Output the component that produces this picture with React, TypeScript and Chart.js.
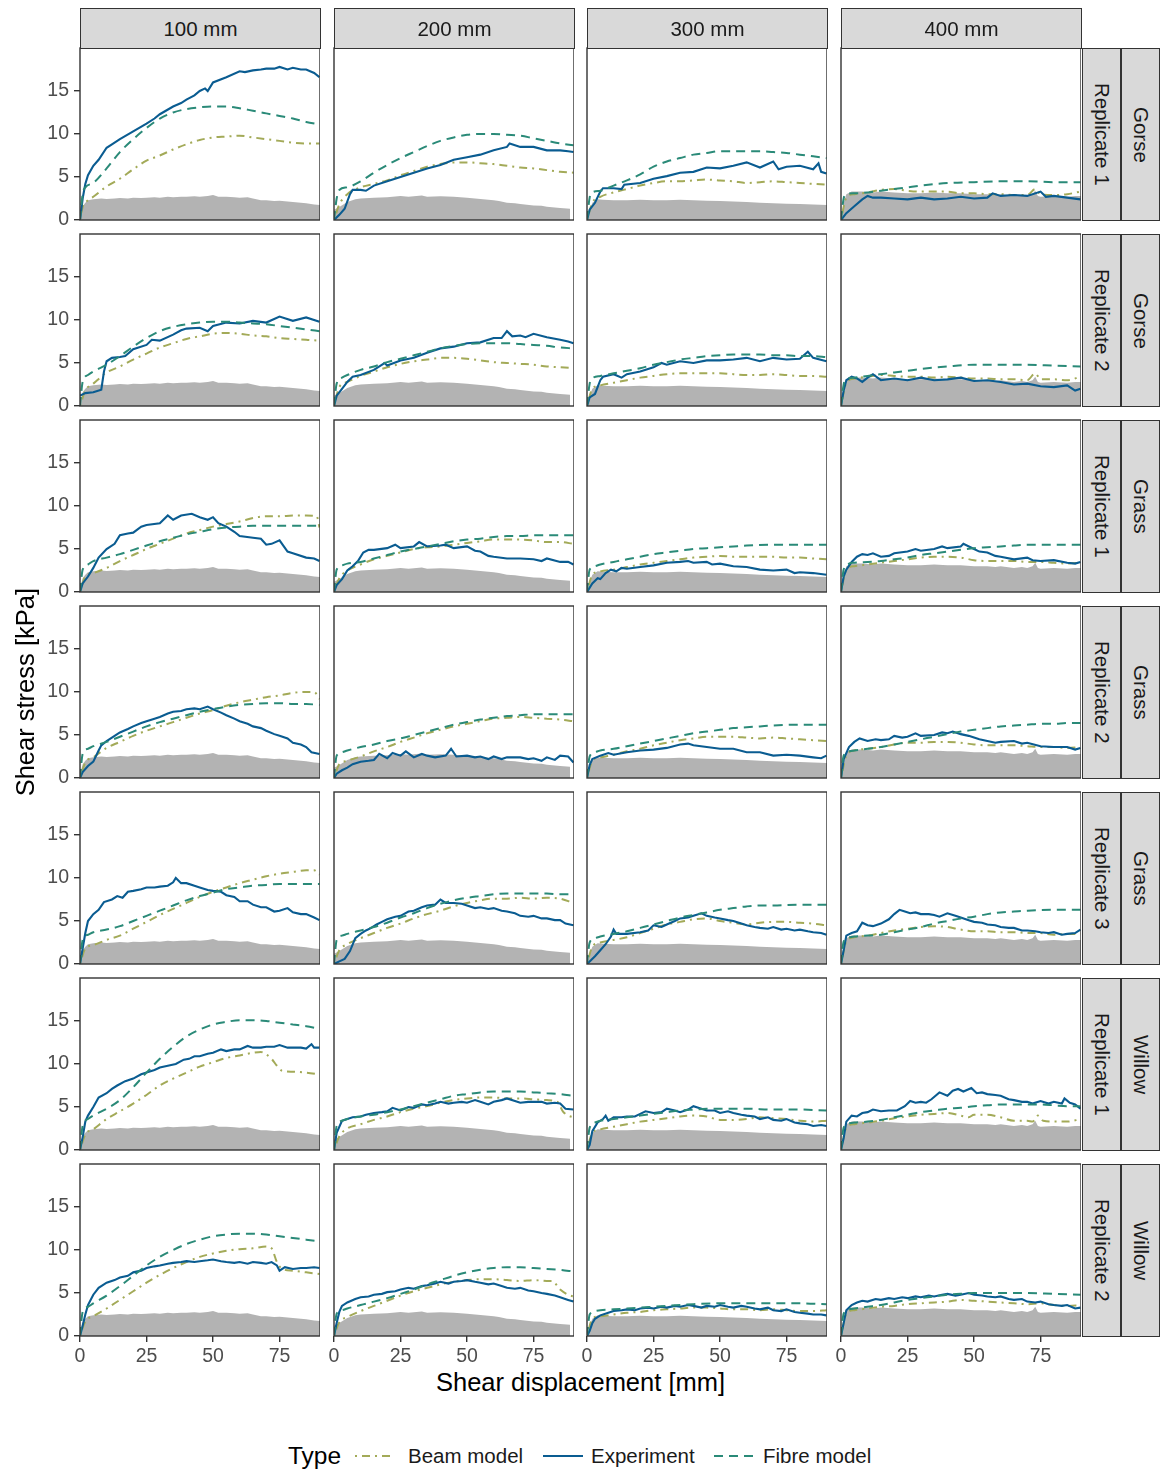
import React, { useEffect, useRef } from "react";
import { Chart, registerables } from "chart.js";

Chart.register(...registerables);
Chart.defaults.font.family = "'Liberation Sans', Arial, sans-serif";

type Pts = [number, number][];

// ---------- facet labels & ticks ----------
const COLUMNS = ["100 mm", "200 mm", "300 mm", "400 mm"];
const SPECIES = ["Gorse", "Gorse", "Grass", "Grass", "Grass", "Willow", "Willow"];
const REPLICATES = ["Replicate 1", "Replicate 2", "Replicate 1", "Replicate 2", "Replicate 3", "Replicate 1", "Replicate 2"];
const X_TICKS = [0, 25, 50, 75];
const Y_TICKS = [0, 5, 10, 15];
const SERIES = ["Beam model", "Experiment", "Fibre model"];

// ---------- soil-only (grey area), one per column ----------
const soil_100: Pts = [[0,0],[0.5,1.0],[1,1.6],[2,2.0],[3,2.3],[5,2.4],[8,2.5],[10,2.45],[13,2.5],[15,2.55],[18,2.5],[20,2.6],[23,2.55],[25,2.6],[28,2.65],[30,2.6],[33,2.7],[35,2.65],[38,2.7],[40,2.7],[43,2.75],[45,2.7],[48,2.8],[50,2.9],[52,2.7],[55,2.7],[58,2.65],[60,2.6],[63,2.65],[65,2.5],[68,2.3],[70,2.3],[73,2.2],[75,2.25],[78,2.15],[80,2.1],[83,2.0],[85,1.95],[88,1.8],[90.2,1.75]];
const soil_200: Pts = [[0,1.2],[2,1.5],[5,2.1],[8,2.4],[10,2.5],[15,2.6],[20,2.65],[25,2.8],[28,2.7],[30,2.75],[33,2.85],[35,2.7],[40,2.75],[45,2.7],[50,2.6],[55,2.45],[60,2.3],[62,2.2],[65,2.0],[68,1.95],[70,1.85],[75,1.7],[78,1.65],[80,1.55],[85,1.4],[88.7,1.3]];
const soil_300: Pts = [[0,0],[1,1.2],[2,2.0],[4,2.4],[6,2.35],[10,2.3],[15,2.3],[20,2.35],[25,2.3],[30,2.3],[35,2.35],[40,2.3],[45,2.25],[50,2.2],[55,2.15],[60,2.1],[65,2.0],[70,1.95],[75,1.9],[80,1.85],[85,1.8],[90.2,1.75]];
const soil_400: Pts = [[0,0],[1,2.0],[2,3.0],[4,3.3],[8,3.3],[12,3.2],[15,3.3],[20,3.2],[25,3.1],[30,3.1],[35,3.2],[40,3.1],[45,3.1],[50,3.0],[55,3.0],[58,2.9],[60,3.0],[65,2.8],[68,2.9],[70,2.8],[72,3.0],[73,3.4],[74,2.8],[75,2.7],[80,2.8],[85,2.7],[88,2.8],[90.2,2.8]];

// ---------- Gorse, Replicate 1 ----------
const exp_g1_100: Pts = [[0,0],[1,2.5],[2,4.2],[3,5.2],[5,6.3],[7,7.0],[10,8.4],[12,8.8],[15,9.4],[20,10.3],[25,11.2],[28,11.8],[30,12.3],[35,13.2],[38,13.6],[40,14.0],[43,14.5],[45,15.0],[47,15.3],[48,15.0],[50,16.0],[55,16.6],[60,17.3],[62,17.2],[65,17.4],[68,17.5],[70,17.6],[73,17.6],[75,17.8],[78,17.5],[80,17.7],[83,17.5],[85,17.5],[88,17.1],[90,16.6]];
const fib_g1_100: Pts = [[0,0],[1,3.0],[2,3.8],[5,4.3],[10,6.0],[15,7.9],[20,9.4],[25,10.7],[30,11.8],[35,12.5],[40,12.9],[45,13.1],[50,13.2],[55,13.2],[60,13.0],[65,12.7],[70,12.4],[75,12.1],[80,11.8],[85,11.4],[90,11.1]];
const beam_g1_100: Pts = [[0,0],[1,1.5],[3,2.3],[5,2.7],[10,3.9],[15,4.8],[20,5.9],[25,6.9],[30,7.5],[35,8.2],[40,8.8],[45,9.3],[50,9.6],[55,9.7],[60,9.8],[65,9.6],[70,9.4],[75,9.2],[80,9.0],[85,8.9],[90,8.9]];

const exp_g1_200: Pts = [[0,0],[2,0.6],[4,1.3],[6,3.0],[7,3.5],[10,3.5],[12,3.4],[15,4.0],[20,4.5],[25,5.0],[30,5.5],[35,6.0],[40,6.4],[45,7.0],[50,7.3],[55,7.6],[60,8.1],[65,8.5],[66,8.9],[70,8.5],[75,8.5],[80,8.1],[85,8.1],[88,8.0],[90,7.9]];
const fib_g1_200: Pts = [[0,0],[1,2.5],[2,3.5],[5,3.8],[10,4.5],[15,5.5],[20,6.4],[25,7.2],[30,7.9],[35,8.6],[40,9.2],[45,9.6],[50,9.9],[55,10.0],[60,10.0],[65,9.9],[70,9.8],[75,9.5],[80,9.2],[85,8.9],[90,8.7]];
const beam_g1_200: Pts = [[0,0],[2,1.8],[5,3.0],[10,3.8],[15,4.2],[20,4.6],[25,5.2],[30,5.7],[35,6.2],[40,6.5],[45,6.7],[50,6.7],[55,6.6],[60,6.5],[65,6.3],[70,6.1],[75,6.0],[80,5.8],[85,5.6],[90,5.5]];

const exp_g1_300: Pts = [[0,0],[1,1.2],[3,2.0],[5,3.3],[6,3.7],[10,3.7],[13,3.6],[14,4.1],[20,4.3],[25,4.8],[30,5.1],[35,5.5],[40,5.6],[45,6.1],[50,6.0],[55,6.3],[60,6.7],[65,6.1],[70,6.8],[72,5.9],[75,6.2],[80,6.3],[85,5.9],[87,6.6],[88,5.6],[90,5.4]];
const fib_g1_300: Pts = [[0,0],[1,2.6],[2,3.2],[5,3.4],[10,4.0],[15,4.6],[20,5.3],[25,6.2],[30,6.8],[35,7.2],[40,7.6],[45,7.8],[50,8.0],[55,8.0],[60,8.0],[65,8.0],[70,7.9],[75,7.8],[80,7.6],[85,7.4],[90,7.2]];
const beam_g1_300: Pts = [[0,0],[2,2.0],[5,2.7],[10,3.2],[15,3.6],[20,4.0],[25,4.3],[30,4.5],[35,4.5],[40,4.6],[45,4.7],[50,4.6],[55,4.5],[60,4.3],[65,4.4],[70,4.5],[75,4.4],[80,4.3],[85,4.2],[90,4.1]];

const exp_g1_400: Pts = [[0,0],[2,0.8],[5,1.6],[8,2.4],[10,2.8],[12,2.6],[15,2.6],[20,2.5],[25,2.4],[30,2.6],[35,2.4],[40,2.5],[45,2.7],[50,2.5],[55,2.6],[57,3.1],[60,2.8],[65,2.9],[70,2.8],[75,3.3],[77,2.7],[80,2.8],[85,2.6],[90,2.4]];
const fib_g1_400: Pts = [[0,0],[1,2.5],[2,3.0],[5,3.1],[10,3.2],[15,3.4],[20,3.6],[25,3.8],[30,4.0],[40,4.3],[50,4.4],[60,4.5],[70,4.5],[80,4.4],[90,4.4]];
const beam_g1_400: Pts = [[0,0],[2,2.6],[5,3.0],[10,3.2],[15,3.5],[20,3.6],[25,3.4],[30,3.3],[35,3.3],[40,3.3],[45,3.1],[50,3.1],[55,3.0],[60,3.0],[65,2.9],[70,2.9],[73,3.6],[75,3.0],[80,2.9],[85,3.0],[90,3.3]];

// ---------- Gorse, Replicate 2 ----------
const exp_g2_100: Pts = [[0,1.2],[2,1.5],[5,1.6],[8,1.9],[9,4.0],[10,5.2],[12,5.6],[15,5.7],[17,5.8],[20,6.6],[25,7.1],[27,7.7],[30,7.6],[35,8.3],[38,8.8],[40,9.0],[45,9.1],[48,8.7],[50,9.3],[55,9.7],[60,9.6],[65,9.9],[70,9.7],[75,10.4],[80,9.9],[85,10.3],[90,9.8]];
const fib_g2_100: Pts = [[0,0],[1,2.8],[3,3.6],[5,4.0],[10,4.8],[15,5.8],[20,6.9],[25,7.9],[30,8.7],[35,9.2],[40,9.5],[45,9.7],[50,9.8],[55,9.8],[60,9.7],[65,9.6],[70,9.5],[75,9.3],[80,9.1],[85,8.9],[90,8.7]];
const beam_g2_100: Pts = [[0,0],[2,1.8],[5,2.6],[10,3.9],[15,4.6],[20,5.4],[25,6.1],[30,6.8],[35,7.3],[40,7.8],[45,8.1],[50,8.4],[55,8.5],[60,8.4],[65,8.2],[70,8.1],[75,7.9],[80,7.8],[85,7.7],[90,7.6]];

const exp_g2_200: Pts = [[0,0],[1,1.2],[3,2.0],[5,2.8],[7,3.4],[10,3.6],[15,4.2],[19,5.0],[20,4.7],[25,5.3],[30,5.6],[35,6.2],[40,6.7],[45,6.9],[50,7.3],[55,7.4],[60,7.9],[63,7.9],[65,8.7],[67,8.1],[70,8.2],[72,8.0],[75,8.4],[80,8.0],[85,7.7],[88,7.5],[90,7.3]];
const fib_g2_200: Pts = [[0,0],[1,2.6],[3,3.3],[5,3.6],[10,4.2],[15,4.6],[20,5.1],[25,5.5],[30,5.9],[35,6.3],[40,6.7],[45,7.0],[50,7.2],[55,7.3],[60,7.3],[65,7.3],[70,7.2],[75,7.1],[80,7.0],[85,6.8],[90,6.7]];
const beam_g2_200: Pts = [[0,0],[2,2.2],[5,2.8],[10,3.5],[15,4.0],[20,4.5],[25,4.9],[30,5.2],[35,5.4],[40,5.6],[45,5.6],[50,5.5],[55,5.3],[60,5.1],[65,5.0],[70,4.9],[75,4.8],[80,4.6],[85,4.5],[90,4.4]];

const exp_g2_300: Pts = [[0,0],[1,1.0],[3,1.4],[5,3.0],[6,3.4],[10,3.7],[13,3.3],[15,3.7],[20,4.0],[25,4.5],[28,5.0],[30,4.8],[35,5.2],[40,5.0],[45,5.3],[50,5.3],[55,5.4],[60,5.6],[65,5.2],[70,5.6],[75,5.4],[80,5.5],[83,6.3],[85,5.6],[90,5.2]];
const fib_g2_300: Pts = [[0,0],[1,2.6],[2,3.2],[5,3.5],[10,3.8],[15,4.1],[20,4.4],[25,4.8],[30,5.1],[35,5.4],[40,5.6],[45,5.8],[50,5.9],[55,6.0],[60,6.0],[65,6.0],[70,5.9],[75,5.9],[80,5.8],[85,5.8],[90,5.7]];
const beam_g2_300: Pts = [[0,0],[2,2.0],[5,2.4],[10,2.7],[15,3.0],[20,3.3],[25,3.5],[30,3.7],[35,3.8],[40,3.8],[45,3.8],[50,3.8],[55,3.7],[60,3.6],[65,3.6],[70,3.7],[75,3.6],[80,3.5],[85,3.5],[90,3.4]];

const exp_g2_400: Pts = [[0,0],[1,1.8],[2,3.0],[4,3.4],[6,3.2],[8,2.8],[10,3.3],[12,3.7],[15,3.0],[20,3.2],[25,3.0],[30,3.3],[35,3.0],[40,3.1],[45,3.3],[50,2.9],[55,3.0],[60,2.8],[65,2.5],[70,2.6],[75,2.3],[80,2.2],[85,2.4],[88,1.8],[90,2.0]];
const fib_g2_400: Pts = [[0,0],[1,2.5],[2,3.1],[5,3.3],[10,3.5],[15,3.7],[20,3.9],[25,4.1],[30,4.3],[40,4.6],[50,4.8],[60,4.8],[70,4.8],[80,4.7],[90,4.6]];
const beam_g2_400: Pts = [[0,0],[2,2.7],[5,3.2],[10,3.4],[15,3.6],[20,3.5],[25,3.4],[30,3.4],[35,3.3],[40,3.4],[45,3.3],[50,3.2],[55,3.2],[60,3.1],[65,3.1],[70,3.0],[73,3.8],[75,3.1],[80,3.1],[85,3.0],[90,3.4]];

// ---------- Grass, Replicate 1 ----------
const exp_r1_100: Pts = [[0,0],[1,1.0],[3,1.8],[5,2.8],[7,4.0],[10,5.0],[13,5.6],[15,6.6],[18,6.8],[20,6.9],[23,7.6],[25,7.8],[30,8.0],[33,8.9],[35,8.4],[38,8.9],[42,9.1],[45,8.7],[48,8.4],[50,8.7],[52,8.0],[55,7.6],[58,7.0],[60,6.5],[65,6.3],[68,6.2],[70,5.5],[72,5.6],[75,6.0],[78,4.7],[80,4.5],[85,4.0],[88,3.9],[90,3.6]];
const fib_r1_100: Pts = [[0,0],[1,2.6],[3,3.2],[5,3.6],[10,4.0],[15,4.4],[20,4.9],[25,5.4],[30,5.9],[35,6.3],[40,6.7],[45,7.0],[50,7.3],[55,7.5],[60,7.6],[65,7.7],[70,7.7],[75,7.7],[80,7.7],[85,7.7],[90,7.7]];
const beam_r1_100: Pts = [[0,0],[2,1.8],[5,2.2],[10,2.8],[15,3.6],[20,4.3],[25,5.0],[30,5.6],[35,6.2],[40,6.8],[45,7.2],[50,7.6],[55,7.9],[60,8.2],[65,8.6],[70,8.8],[75,8.8],[80,8.9],[85,8.9],[89,8.8],[90,7.5]];

const exp_r1_200: Pts = [[0,0],[1,0.8],[3,1.5],[5,2.5],[7,3.0],[9,3.6],[11,4.6],[13,4.9],[15,4.9],[20,5.1],[23,5.5],[25,5.1],[30,5.3],[32,5.8],[35,5.3],[40,5.4],[42,5.5],[45,5.1],[50,5.3],[53,4.8],[55,4.7],[58,4.2],[60,4.1],[65,3.9],[70,3.9],[75,3.8],[78,3.6],[80,3.9],[85,3.5],[88,3.5],[90,3.2]];
const fib_r1_200: Pts = [[0,0],[1,2.6],[3,3.1],[5,3.3],[10,3.5],[15,3.9],[20,4.3],[25,4.7],[30,5.0],[35,5.3],[40,5.6],[45,5.9],[50,6.1],[55,6.2],[60,6.4],[65,6.5],[70,6.5],[75,6.6],[80,6.6],[85,6.6],[90,6.6]];
const beam_r1_200: Pts = [[0,0],[2,1.6],[5,2.5],[10,3.2],[15,3.8],[20,4.2],[25,4.6],[30,5.0],[35,5.2],[40,5.3],[45,5.5],[50,5.7],[55,5.9],[60,6.1],[65,6.1],[70,6.1],[75,6.0],[80,5.8],[85,5.8],[90,5.6]];

const exp_r1_300: Pts = [[0,0],[2,1.0],[4,1.6],[5,1.5],[7,2.2],[9,2.6],[11,2.4],[13,2.8],[15,2.7],[20,2.9],[25,3.1],[30,3.4],[35,3.5],[38,3.6],[40,3.4],[45,3.5],[47,3.2],[50,3.3],[55,3.0],[60,2.9],[65,2.6],[70,2.5],[75,2.6],[78,2.2],[80,2.3],[85,2.2],[90,2.0]];
const fib_r1_300: Pts = [[0,0],[1,2.6],[3,3.0],[5,3.2],[10,3.5],[15,3.8],[20,4.1],[25,4.4],[30,4.6],[35,4.8],[40,5.0],[45,5.1],[50,5.2],[55,5.3],[60,5.4],[70,5.5],[80,5.5],[90,5.5]];
const beam_r1_300: Pts = [[0,0],[2,2.0],[5,2.4],[10,2.6],[15,2.9],[20,3.2],[25,3.4],[30,3.6],[35,3.8],[40,4.0],[45,4.1],[50,4.2],[55,4.1],[60,4.1],[65,4.1],[70,4.1],[75,4.0],[80,4.0],[85,3.9],[90,3.8]];

const exp_r1_400: Pts = [[0,0],[1,1.8],[2,2.6],[4,3.5],[6,4.1],[8,4.4],[10,4.3],[12,4.5],[15,4.1],[18,4.2],[20,4.5],[25,4.7],[28,5.0],[30,4.8],[35,5.0],[38,5.3],[40,5.1],[45,5.3],[46,5.6],[50,5.0],[52,4.7],[55,4.6],[58,4.2],[60,4.1],[65,3.8],[70,4.0],[72,3.7],[75,3.6],[80,3.7],[85,3.4],[88,3.3],[90,3.5]];
const fib_r1_400: Pts = [[0,0],[1,2.6],[3,3.3],[5,3.4],[10,3.5],[15,3.6],[20,3.8],[25,4.0],[30,4.3],[35,4.5],[40,4.7],[45,4.9],[50,5.1],[55,5.2],[60,5.3],[65,5.4],[70,5.5],[80,5.5],[90,5.5]];
const beam_r1_400: Pts = [[0,0],[2,2.6],[5,3.0],[10,3.2],[15,3.4],[20,3.6],[25,3.8],[30,4.0],[35,4.1],[40,4.1],[45,4.0],[50,3.7],[55,3.6],[60,3.6],[65,3.6],[70,3.5],[75,3.5],[80,3.4],[85,3.3],[90,3.4]];

// ---------- Grass, Replicate 2 ----------
const exp_r2_100: Pts = [[0,0],[1,0.7],[3,1.4],[5,1.9],[7,3.2],[8,3.8],[10,4.3],[13,4.9],[15,5.3],[18,5.7],[20,6.0],[23,6.4],[25,6.6],[28,6.9],[30,7.1],[33,7.5],[35,7.7],[38,7.8],[40,8.0],[43,8.1],[45,8.0],[48,8.3],[50,8.0],[53,7.6],[55,7.3],[58,6.9],[60,6.6],[63,6.3],[65,6.0],[68,5.8],[70,5.5],[73,5.1],[75,4.9],[78,4.6],[80,4.1],[83,3.9],[85,3.6],[87,3.0],[90,2.8]];
const fib_r2_100: Pts = [[0,0],[1,2.8],[3,3.4],[5,3.7],[10,4.2],[15,4.8],[20,5.4],[25,6.0],[30,6.5],[35,6.9],[40,7.3],[45,7.7],[50,8.0],[55,8.3],[60,8.5],[65,8.6],[70,8.7],[75,8.7],[80,8.6],[85,8.6],[90,8.5]];
const beam_r2_100: Pts = [[0,0],[2,1.8],[5,2.4],[10,3.5],[15,4.2],[20,4.9],[25,5.5],[30,6.0],[35,6.5],[40,7.0],[45,7.5],[50,7.9],[55,8.4],[60,8.8],[65,9.1],[70,9.4],[75,9.6],[80,9.9],[85,10.0],[88,10.0],[90,9.2]];

const exp_r2_200: Pts = [[0,0],[1,0.5],[3,0.9],[5,1.2],[7,1.6],[10,1.9],[13,2.0],[15,2.1],[17,2.8],[20,2.3],[22,2.9],[25,2.6],[27,3.1],[30,2.4],[33,2.8],[35,2.6],[38,2.4],[42,2.6],[44,3.4],[46,2.5],[50,2.6],[53,2.4],[55,2.5],[58,2.2],[60,2.5],[63,2.2],[65,2.4],[70,2.4],[73,2.2],[75,2.3],[78,2.0],[80,2.4],[83,2.1],[85,2.6],[88,2.5],[90,1.8]];
const fib_r2_200: Pts = [[0,0],[1,2.6],[3,3.0],[5,3.2],[10,3.6],[15,3.9],[20,4.3],[25,4.6],[30,5.0],[35,5.4],[40,5.8],[45,6.2],[50,6.5],[55,6.8],[60,7.0],[65,7.2],[70,7.3],[75,7.4],[80,7.4],[85,7.4],[90,7.4]];
const beam_r2_200: Pts = [[0,0],[2,1.6],[5,2.0],[10,2.5],[15,3.1],[20,3.6],[25,4.2],[30,4.7],[35,5.2],[40,5.6],[45,6.0],[50,6.3],[55,6.6],[60,6.9],[65,7.0],[70,7.1],[75,7.0],[80,6.9],[85,6.8],[90,6.6]];

const exp_r2_300: Pts = [[0,0],[1,1.5],[2,2.2],[5,2.6],[8,2.9],[10,2.7],[15,3.0],[20,3.2],[25,3.3],[30,3.5],[35,3.9],[38,4.0],[40,3.8],[45,3.6],[50,3.4],[55,3.4],[60,3.0],[65,3.0],[70,2.6],[75,2.7],[80,2.6],[85,2.4],[88,2.3],[90,2.6]];
const fib_r2_300: Pts = [[0,0],[1,2.5],[3,3.0],[5,3.2],[10,3.4],[15,3.7],[20,4.0],[25,4.3],[30,4.6],[35,4.9],[40,5.2],[45,5.4],[50,5.6],[55,5.8],[60,5.9],[65,6.0],[70,6.1],[80,6.2],[90,6.2]];
const beam_r2_300: Pts = [[0,0],[2,2.0],[5,2.4],[10,2.7],[15,3.1],[20,3.4],[25,3.8],[30,4.1],[35,4.4],[40,4.6],[45,4.8],[50,4.8],[55,4.8],[60,4.7],[65,4.6],[70,4.7],[75,4.6],[80,4.5],[85,4.4],[90,4.3]];

const exp_r2_400: Pts = [[0,0],[1,2.2],[3,3.6],[5,4.2],[7,4.6],[10,4.3],[13,4.5],[15,4.4],[18,4.5],[20,4.9],[23,4.7],[25,4.8],[28,5.2],[30,4.9],[35,5.0],[38,5.3],[40,5.2],[42,5.4],[45,5.1],[48,4.9],[50,4.7],[52,4.5],[55,4.3],[58,4.1],[60,4.2],[65,4.3],[68,4.0],[70,4.1],[75,3.7],[80,3.6],[85,3.6],[88,3.3],[90,3.5]];
const fib_r2_400: Pts = [[0,0],[1,2.6],[3,3.1],[5,3.2],[10,3.4],[15,3.6],[20,3.9],[25,4.2],[30,4.5],[35,4.8],[40,5.1],[45,5.4],[50,5.6],[55,5.8],[60,6.0],[65,6.1],[70,6.2],[75,6.3],[80,6.3],[85,6.4],[90,6.4]];
const beam_r2_400: Pts = [[0,0],[2,2.6],[5,3.2],[10,3.4],[15,3.6],[20,3.9],[25,4.1],[30,4.1],[35,4.2],[40,4.2],[45,4.1],[50,3.9],[55,3.8],[60,3.8],[65,3.8],[70,3.7],[75,3.6],[80,3.6],[85,3.5],[90,3.6]];

// ---------- Grass, Replicate 3 ----------
const exp_r3_100: Pts = [[0,0],[1,1.8],[2,3.6],[3,5.0],[5,5.8],[7,6.3],[9,7.2],[12,7.5],[14,7.9],[16,7.7],[18,8.4],[20,8.5],[23,8.7],[25,8.9],[28,8.9],[30,9.0],[33,9.1],[35,9.5],[36,10.0],[38,9.4],[40,9.4],[43,9.1],[45,8.9],[48,8.6],[50,8.5],[53,8.4],[55,8.0],[58,7.8],[60,7.3],[63,7.3],[65,6.9],[68,6.6],[70,6.6],[73,6.1],[75,6.2],[78,6.5],[80,6.0],[83,5.8],[85,5.8],[88,5.4],[90,5.1]];
const fib_r3_100: Pts = [[0,0],[1,2.8],[3,3.4],[5,3.7],[10,4.0],[15,4.4],[20,5.0],[25,5.6],[30,6.2],[35,6.8],[40,7.4],[45,7.9],[50,8.3],[55,8.7],[60,8.9],[65,9.1],[70,9.2],[75,9.3],[80,9.3],[85,9.3],[90,9.3]];
const beam_r3_100: Pts = [[0,0],[2,1.8],[5,2.2],[10,2.8],[15,3.3],[20,4.1],[25,4.9],[30,5.7],[35,6.4],[40,7.1],[45,7.8],[50,8.4],[55,8.9],[60,9.4],[65,9.8],[70,10.2],[75,10.5],[80,10.7],[85,10.9],[88,10.9],[90,10.4]];

const exp_r3_200: Pts = [[0,0],[2,0.3],[4,0.6],[6,1.5],[8,3.0],[10,3.5],[12,3.9],[14,4.2],[16,4.6],[18,4.9],[20,5.2],[23,5.5],[25,5.6],[28,6.1],[30,6.2],[33,6.6],[35,6.8],[38,6.9],[40,7.5],[42,7.1],[45,7.1],[48,7.0],[50,6.8],[53,6.5],[55,6.6],[58,6.4],[60,6.5],[63,6.2],[65,6.1],[68,5.9],[70,5.6],[73,5.5],[75,5.6],[78,5.3],[80,5.3],[83,5.1],[85,5.1],[87,4.7],[90,4.5]];
const fib_r3_200: Pts = [[0,0],[1,2.8],[3,3.3],[5,3.5],[10,3.9],[15,4.3],[20,4.8],[25,5.4],[30,5.9],[35,6.5],[40,7.0],[45,7.4],[50,7.7],[55,7.9],[60,8.1],[65,8.2],[70,8.2],[75,8.2],[80,8.2],[85,8.1],[90,8.1]];
const beam_r3_200: Pts = [[0,0],[2,1.6],[5,2.3],[10,3.0],[15,3.6],[20,4.2],[25,4.7],[30,5.3],[35,5.8],[40,6.2],[45,6.7],[50,7.1],[55,7.4],[60,7.6],[65,7.6],[70,7.7],[75,7.6],[80,7.7],[85,7.6],[90,7.1]];

const exp_r3_300: Pts = [[0,0],[1,0.3],[3,0.9],[5,1.6],[7,2.3],[9,3.2],[10,4.0],[11,3.5],[15,3.5],[20,3.7],[23,3.9],[25,4.5],[28,4.3],[30,4.6],[33,5.0],[35,5.3],[38,5.4],[40,5.6],[43,5.9],[45,5.6],[48,5.4],[50,5.3],[53,5.1],[55,5.0],[58,4.7],[60,4.5],[63,4.3],[65,4.2],[68,4.1],[70,4.3],[73,4.0],[75,4.1],[78,3.9],[80,4.0],[83,3.8],[85,3.7],[88,3.6],[90,3.4]];
const fib_r3_300: Pts = [[0,0],[1,2.5],[3,3.0],[5,3.2],[10,3.5],[15,3.8],[20,4.2],[25,4.6],[30,5.0],[35,5.4],[40,5.7],[45,6.0],[50,6.3],[55,6.5],[60,6.7],[65,6.8],[70,6.8],[80,6.9],[90,6.9]];
const beam_r3_300: Pts = [[0,0],[2,2.0],[5,2.5],[10,2.8],[15,3.1],[20,3.6],[25,4.1],[30,4.6],[35,4.9],[40,5.2],[45,5.3],[50,5.0],[55,4.8],[60,4.6],[65,4.8],[70,4.9],[75,4.9],[80,4.8],[85,4.7],[90,4.5]];

const exp_r3_400: Pts = [[0,0],[1,1.6],[2,3.3],[4,3.6],[6,3.8],[8,4.8],[10,4.5],[12,4.4],[15,4.7],[18,5.2],[20,5.8],[22,6.3],[24,6.1],[26,5.9],[28,6.0],[30,5.8],[33,5.8],[35,5.7],[37,5.5],[40,5.9],[43,5.6],[45,5.4],[48,5.1],[50,4.9],[53,4.8],[55,4.6],[58,4.5],[60,4.3],[63,4.2],[65,4.2],[68,3.9],[70,3.9],[73,3.8],[75,3.7],[78,3.6],[80,3.7],[83,3.4],[85,3.5],[88,3.6],[90,4.0]];
const fib_r3_400: Pts = [[0,0],[1,2.6],[3,3.1],[5,3.2],[10,3.3],[15,3.4],[20,3.7],[25,4.0],[30,4.3],[35,4.7],[40,5.0],[45,5.3],[50,5.5],[55,5.8],[60,6.0],[65,6.1],[70,6.2],[80,6.3],[90,6.3]];
const beam_r3_400: Pts = [[0,0],[2,2.6],[5,3.1],[10,3.3],[15,3.6],[20,3.9],[25,4.1],[30,4.3],[35,4.4],[40,4.3],[45,4.0],[50,3.8],[55,3.8],[60,3.7],[65,3.7],[70,3.6],[75,3.6],[80,3.4],[85,3.5],[90,3.5]];

// ---------- Willow, Replicate 1 ----------
const exp_w1_100: Pts = [[0,0],[1,1.5],[2,3.3],[3,4.0],[5,5.0],[7,6.1],[10,6.6],[12,7.1],[14,7.5],[17,8.0],[20,8.3],[23,8.8],[25,9.0],[28,9.3],[30,9.6],[33,9.8],[36,10.0],[39,10.5],[41,10.6],[43,10.9],[45,10.9],[48,11.2],[50,11.3],[53,11.7],[55,11.5],[58,11.7],[60,11.7],[63,12.1],[65,11.9],[68,11.9],[70,12.0],[73,12.0],[75,12.2],[78,11.9],[80,11.9],[83,11.9],[85,11.8],[87,12.3],[88,11.9],[90,11.9]];
const fib_w1_100: Pts = [[0,0],[1,2.8],[3,3.6],[5,4.0],[10,4.8],[15,5.8],[20,7.3],[25,9.0],[30,10.6],[35,12.0],[40,13.2],[45,14.0],[50,14.6],[55,14.9],[60,15.1],[65,15.1],[70,15.0],[75,14.8],[80,14.6],[85,14.4],[90,14.1]];
const beam_w1_100: Pts = [[0,0],[2,1.8],[5,2.4],[10,3.6],[15,4.5],[20,5.4],[25,6.4],[30,7.5],[35,8.3],[40,9.0],[45,9.7],[50,10.2],[55,10.7],[60,11.0],[65,11.3],[68,11.4],[70,11.1],[72,10.6],[74,9.8],[76,9.2],[80,9.1],[85,9.0],[90,8.8]];

const exp_w1_200: Pts = [[0,0],[1,2.0],[3,3.4],[5,3.6],[7,3.8],[10,3.9],[12,4.1],[15,4.3],[18,4.4],[20,4.5],[22,4.9],[25,4.6],[28,5.0],[30,4.9],[33,5.3],[35,5.2],[38,5.4],[40,5.6],[43,5.4],[45,5.5],[48,5.6],[50,5.5],[53,5.8],[55,5.6],[58,5.3],[60,5.6],[63,5.8],[65,6.0],[68,5.7],[70,5.5],[73,5.6],[75,5.6],[78,5.6],[80,5.4],[83,5.5],[85,5.4],[87,4.8],[90,4.7]];
const fib_w1_200: Pts = [[0,0],[1,2.8],[3,3.4],[5,3.6],[10,3.9],[15,4.1],[20,4.4],[25,4.7],[30,5.1],[35,5.5],[40,5.9],[45,6.3],[50,6.5],[55,6.7],[60,6.8],[65,6.8],[70,6.8],[75,6.7],[80,6.6],[85,6.5],[90,6.3]];
const beam_w1_200: Pts = [[0,0],[2,1.6],[5,2.5],[10,3.0],[15,3.5],[20,3.9],[25,4.4],[30,4.8],[35,5.1],[40,5.5],[45,5.8],[50,6.0],[55,6.1],[60,6.1],[65,6.0],[70,6.0],[75,5.9],[80,5.8],[84,5.6],[86,4.5],[88,4.0],[90,3.8]];

const exp_w1_300: Pts = [[0,0],[1,0.6],[2,2.2],[4,3.2],[6,3.6],[7,4.0],[8,3.4],[10,3.8],[13,3.8],[15,3.9],[18,3.9],[20,4.2],[22,4.5],[25,4.3],[28,4.4],[30,4.8],[33,4.6],[35,4.4],[38,4.7],[40,5.1],[43,4.8],[45,4.6],[48,4.6],[50,4.3],[53,4.5],[55,4.3],[58,4.1],[60,4.0],[63,3.9],[65,3.6],[68,3.8],[70,3.5],[73,3.4],[75,3.6],[78,3.2],[80,3.1],[83,3.0],[85,2.8],[88,2.9],[90,2.8]];
const fib_w1_300: Pts = [[0,0],[1,2.6],[3,3.2],[5,3.4],[10,3.6],[15,3.8],[20,4.0],[25,4.2],[30,4.4],[35,4.6],[40,4.7],[45,4.8],[50,4.8],[60,4.8],[70,4.7],[80,4.7],[90,4.6]];
const beam_w1_300: Pts = [[0,0],[2,2.0],[5,2.4],[10,2.7],[15,3.0],[20,3.3],[25,3.5],[30,3.7],[35,3.9],[40,4.0],[45,3.9],[50,3.5],[55,3.5],[60,3.6],[65,3.8],[70,3.7],[75,3.6],[80,3.4],[85,3.3],[90,3.4]];

const exp_w1_400: Pts = [[0,0],[1,1.4],[2,3.3],[4,4.0],[6,3.9],[8,4.3],[10,4.4],[12,4.7],[15,4.5],[18,4.6],[21,4.6],[24,5.1],[26,5.7],[28,5.5],[30,5.6],[32,5.5],[34,5.9],[37,6.7],[40,6.3],[42,6.9],[44,7.1],[46,6.8],[49,7.2],[51,6.6],[53,6.7],[55,6.5],[58,6.4],[60,6.3],[63,5.9],[65,5.8],[68,5.6],[70,5.6],[72,5.4],[75,5.7],[78,5.4],[80,5.6],[83,5.4],[84,6.0],[86,5.5],[88,5.3],[90,4.8]];
const fib_w1_400: Pts = [[0,0],[1,2.6],[3,3.1],[5,3.2],[10,3.3],[15,3.5],[20,3.8],[25,4.1],[30,4.4],[35,4.6],[40,4.8],[45,4.9],[50,5.1],[55,5.2],[60,5.3],[65,5.3],[70,5.3],[75,5.3],[80,5.2],[85,5.1],[90,5.1]];
const beam_w1_400: Pts = [[0,0],[2,2.6],[5,3.0],[10,3.2],[15,3.4],[20,3.7],[25,3.9],[30,4.1],[35,4.2],[40,4.3],[45,4.0],[48,3.8],[50,4.1],[55,4.1],[60,3.8],[65,3.4],[70,3.4],[72,3.3],[74,4.0],[76,3.4],[80,3.3],[85,3.3],[90,3.6]];

// ---------- Willow, Replicate 2 ----------
const exp_w2_100: Pts = [[0,0],[1,1.2],[2,2.5],[3,3.6],[5,4.8],[7,5.6],[10,6.2],[13,6.5],[15,6.8],[18,7.0],[20,7.4],[23,7.6],[25,7.9],[28,8.1],[30,8.2],[33,8.4],[35,8.5],[38,8.6],[40,8.7],[43,8.6],[45,8.7],[48,8.8],[50,8.9],[53,8.7],[55,8.6],[58,8.5],[60,8.6],[63,8.4],[65,8.6],[68,8.5],[70,8.4],[72,8.6],[74,8.2],[75,7.6],[77,8.0],[80,7.8],[83,7.9],[85,7.9],[88,8.0],[90,7.9]];
const fib_w2_100: Pts = [[0,0],[1,2.8],[3,3.4],[5,3.8],[10,4.7],[15,5.8],[20,7.0],[25,8.2],[30,9.2],[35,10.0],[40,10.7],[45,11.2],[50,11.6],[55,11.8],[60,11.9],[65,11.9],[70,11.8],[75,11.6],[80,11.4],[85,11.2],[90,11.0]];
const beam_w2_100: Pts = [[0,0],[2,1.7],[5,2.3],[10,3.2],[15,4.2],[20,5.2],[25,6.2],[30,7.1],[35,7.9],[40,8.6],[45,9.2],[50,9.6],[55,9.9],[60,10.1],[65,10.2],[70,10.4],[72,10.2],[74,8.6],[76,7.8],[80,7.6],[85,7.4],[90,7.2]];

const exp_w2_200: Pts = [[0,0],[1,1.5],[2,2.8],[3,3.5],[5,3.9],[8,4.3],[10,4.5],[13,4.6],[15,4.8],[18,4.9],[20,5.1],[23,5.2],[25,5.4],[28,5.6],[30,5.5],[33,5.8],[35,5.9],[38,6.1],[40,6.3],[43,6.1],[45,6.3],[48,6.4],[50,6.5],[53,6.3],[55,6.2],[58,6.0],[60,6.1],[63,5.8],[65,5.6],[68,5.5],[70,5.6],[73,5.3],[75,5.2],[78,5.0],[80,4.9],[83,4.7],[85,4.5],[88,4.2],[90,4.0]];
const fib_w2_200: Pts = [[0,0],[1,2.6],[3,3.0],[5,3.2],[10,3.6],[15,4.0],[20,4.4],[25,4.9],[30,5.4],[35,6.0],[40,6.5],[45,7.0],[50,7.4],[55,7.7],[60,7.9],[65,8.0],[70,8.0],[75,7.9],[80,7.8],[85,7.7],[90,7.5]];
const beam_w2_200: Pts = [[0,0],[2,1.6],[5,2.2],[10,2.9],[15,3.5],[20,4.1],[25,4.7],[30,5.2],[35,5.6],[40,6.0],[45,6.3],[50,6.5],[55,6.6],[60,6.6],[65,6.5],[70,6.4],[75,6.5],[80,6.4],[82,6.4],[85,5.4],[88,4.8],[90,4.6]];

const exp_w2_300: Pts = [[0,0],[1,0.6],[2,1.5],[3,2.0],[5,2.4],[8,2.7],[10,2.9],[13,3.0],[15,3.1],[18,3.0],[20,3.2],[23,3.3],[25,3.2],[28,3.4],[30,3.3],[33,3.5],[35,3.4],[38,3.6],[40,3.5],[43,3.3],[45,3.5],[48,3.4],[50,3.6],[53,3.4],[55,3.3],[58,3.5],[60,3.4],[63,3.2],[65,3.1],[68,3.3],[70,3.0],[73,2.9],[75,3.1],[78,2.8],[80,2.7],[83,2.6],[85,2.5],[88,2.5],[90,2.4]];
const fib_w2_300: Pts = [[0,0],[1,2.5],[3,2.9],[5,3.0],[10,3.1],[15,3.2],[20,3.3],[30,3.5],[40,3.7],[50,3.8],[60,3.8],[70,3.8],[80,3.8],[90,3.7]];
const beam_w2_300: Pts = [[0,0],[2,2.0],[5,2.3],[10,2.5],[15,2.7],[20,2.8],[25,3.0],[30,3.1],[35,3.2],[40,3.3],[45,3.3],[50,3.2],[55,3.1],[60,3.1],[65,3.0],[70,3.1],[75,3.0],[80,2.9],[85,2.9],[90,3.0]];

const exp_w2_400: Pts = [[0,0],[1,1.5],[2,3.0],[4,3.6],[6,3.9],[8,4.1],[10,4.0],[13,4.3],[15,4.2],[18,4.4],[20,4.3],[23,4.5],[25,4.4],[28,4.6],[30,4.5],[33,4.7],[35,4.6],[38,4.8],[40,4.9],[43,4.7],[45,4.8],[48,5.0],[50,4.8],[53,4.7],[55,4.6],[58,4.5],[60,4.6],[63,4.3],[65,4.2],[68,4.3],[70,4.0],[73,3.9],[75,4.0],[78,3.7],[80,3.6],[83,3.5],[85,3.6],[88,3.2],[90,3.3]];
const fib_w2_400: Pts = [[0,0],[1,2.6],[3,3.1],[5,3.2],[10,3.4],[15,3.6],[20,3.9],[25,4.2],[30,4.4],[35,4.6],[40,4.8],[45,4.9],[50,5.0],[55,5.0],[60,5.0],[70,5.0],[80,4.9],[90,4.8]];
const beam_w2_400: Pts = [[0,0],[2,2.6],[5,3.0],[10,3.2],[15,3.4],[20,3.5],[25,3.7],[30,3.8],[35,3.9],[40,4.0],[45,4.2],[50,4.1],[55,4.0],[60,3.9],[65,3.8],[70,3.7],[75,3.8],[80,3.6],[85,3.5],[90,3.6]];

// ---------- tables built from the arrays above ----------
const SOIL = [soil_100, soil_200, soil_300, soil_400];
const BEAM: Pts[][] = [
  [beam_g1_100, beam_g1_200, beam_g1_300, beam_g1_400],
  [beam_g2_100, beam_g2_200, beam_g2_300, beam_g2_400],
  [beam_r1_100, beam_r1_200, beam_r1_300, beam_r1_400],
  [beam_r2_100, beam_r2_200, beam_r2_300, beam_r2_400],
  [beam_r3_100, beam_r3_200, beam_r3_300, beam_r3_400],
  [beam_w1_100, beam_w1_200, beam_w1_300, beam_w1_400],
  [beam_w2_100, beam_w2_200, beam_w2_300, beam_w2_400],
];
const EXP: Pts[][] = [
  [exp_g1_100, exp_g1_200, exp_g1_300, exp_g1_400],
  [exp_g2_100, exp_g2_200, exp_g2_300, exp_g2_400],
  [exp_r1_100, exp_r1_200, exp_r1_300, exp_r1_400],
  [exp_r2_100, exp_r2_200, exp_r2_300, exp_r2_400],
  [exp_r3_100, exp_r3_200, exp_r3_300, exp_r3_400],
  [exp_w1_100, exp_w1_200, exp_w1_300, exp_w1_400],
  [exp_w2_100, exp_w2_200, exp_w2_300, exp_w2_400],
];
const FIB: Pts[][] = [
  [fib_g1_100, fib_g1_200, fib_g1_300, fib_g1_400],
  [fib_g2_100, fib_g2_200, fib_g2_300, fib_g2_400],
  [fib_r1_100, fib_r1_200, fib_r1_300, fib_r1_400],
  [fib_r2_100, fib_r2_200, fib_r2_300, fib_r2_400],
  [fib_r3_100, fib_r3_200, fib_r3_300, fib_r3_400],
  [fib_w1_100, fib_w1_200, fib_w1_300, fib_w1_400],
  [fib_w2_100, fib_w2_200, fib_w2_300, fib_w2_400],
];

// ---------- styling / layout ----------
const FONT = "'Liberation Sans', Arial, Helvetica, sans-serif";
const C_BEAM = "#A3AA58";
const C_EXP = "#0A5C91";
const C_FIB = "#2A8A78";
const C_SOIL = "#B3B3B3";
const C_FRAME = "#333333";
const DASH_BEAM = [2, 5, 8, 5];
const DASH_FIB = [9, 6];
const SMALL = 20.5;
const TITLE = 25.5;

const COL_X = [80, 334, 587, 841];
const ROW_Y = [48, 234, 420, 606, 792, 978, 1164];
const PW = 240;
const PH = 172;
const AX_W = 45;
const AX_H = 30;
const PAD_T = 20;
const X_MAX = 90.2;
const Y_MAX = 20;

const framePlugin = {
  id: "frame",
  afterDatasetsDraw(chart: any) {
    const { ctx, chartArea: a } = chart;
    ctx.save();
    ctx.strokeStyle = C_FRAME;
    ctx.lineWidth = 1.4;
    ctx.strokeRect(a.left, a.top, a.right - a.left, a.bottom - a.top);
    ctx.restore();
  },
};

const toXY = (p: Pts) => p.map(([x, y]) => ({ x, y }));

function Panel({ r, c }: { r: number; c: number }) {
  const ref = useRef<HTMLCanvasElement>(null);
  useEffect(() => {
    if (!ref.current) return;
    const showY = c === 0;
    const showX = r === ROW_Y.length - 1;
    const tickFont = { family: FONT, size: SMALL - 1 };
    const chart = new Chart(ref.current, {
      type: "line",
      data: {
        datasets: [
          { label: "Soil", data: toXY(SOIL[c]), fill: "origin", backgroundColor: C_SOIL, borderWidth: 0, pointRadius: 0, tension: 0, order: 4 } as any,
          { label: SERIES[0], data: toXY(BEAM[r][c]), borderColor: C_BEAM, borderWidth: 2, borderDash: DASH_BEAM, pointRadius: 0, fill: false, cubicInterpolationMode: "monotone", order: 3 },
          { label: SERIES[1], data: toXY(EXP[r][c]), borderColor: C_EXP, borderWidth: 2.1, pointRadius: 0, fill: false, tension: 0, order: 2 },
          { label: SERIES[2], data: toXY(FIB[r][c]), borderColor: C_FIB, borderWidth: 2, borderDash: DASH_FIB, pointRadius: 0, fill: false, cubicInterpolationMode: "monotone", order: 1 },
        ],
      },
      options: {
        animation: false,
        responsive: false,
        devicePixelRatio: 1,
        events: [],
        layout: { padding: { top: PAD_T, left: 0, right: 0, bottom: 0 } },
        plugins: { legend: { display: false }, tooltip: { enabled: false } },
        scales: {
          x: {
            type: "linear",
            min: 0,
            max: X_MAX,
            afterBuildTicks: (ax: any) => { ax.ticks = X_TICKS.map((v) => ({ value: v })); },
            afterFit: (s: any) => { s.height = AX_H; },
            border: { display: false },
            grid: { display: showX, drawOnChartArea: false, drawTicks: true, tickLength: 6, color: C_FRAME, lineWidth: 1.4 },
            ticks: { display: showX, padding: 3, color: "#4D4D4D", font: tickFont, maxRotation: 0, autoSkip: false },
          },
          y: {
            type: "linear",
            min: 0,
            max: Y_MAX,
            afterBuildTicks: (ax: any) => { ax.ticks = Y_TICKS.map((v) => ({ value: v })); },
            afterFit: (s: any) => { s.width = AX_W; },
            border: { display: false },
            grid: { display: showY, drawOnChartArea: false, drawTicks: true, tickLength: 6, color: C_FRAME, lineWidth: 1.4 },
            ticks: { display: showY, padding: 5, color: "#4D4D4D", font: tickFont, autoSkip: false },
          },
        },
      } as any,
      plugins: [framePlugin],
    });
    return () => chart.destroy();
  }, [r, c]);
  return (
    <canvas
      ref={ref}
      width={AX_W + PW}
      height={PAD_T + PH + AX_H}
      style={{ position: "absolute", left: COL_X[c] - AX_W, top: ROW_Y[r] - PAD_T, width: AX_W + PW, height: PAD_T + PH + AX_H }}
    />
  );
}

const stripBase: React.CSSProperties = {
  position: "absolute",
  boxSizing: "border-box",
  background: "#D9D9D9",
  border: `1.4px solid ${C_FRAME}`,
  color: "#1A1A1A",
  fontSize: SMALL,
  fontFamily: FONT,
  display: "flex",
  alignItems: "center",
  justifyContent: "center",
  whiteSpace: "nowrap",
};

function LegendKey({ color, dash }: { color: string; dash?: number[] }) {
  return (
    <svg width={40} height={10} style={{ display: "block" }}>
      <line x1={0} y1={5} x2={40} y2={5} stroke={color} strokeWidth={2} strokeDasharray={dash ? dash.join(" ") : undefined} />
    </svg>
  );
}

export default function App() {
  const panels: JSX.Element[] = [];
  for (let r = 0; r < ROW_Y.length; r++) {
    for (let c = 0; c < COL_X.length; c++) {
      panels.push(<Panel key={`${r}-${c}`} r={r} c={c} />);
    }
  }
  const legendItems = [
    { label: SERIES[0], color: C_BEAM, dash: DASH_BEAM, keyX: 355, textX: 408 },
    { label: SERIES[1], color: C_EXP, dash: undefined, keyX: 543, textX: 591 },
    { label: SERIES[2], color: C_FIB, dash: DASH_FIB, keyX: 714, textX: 763 },
  ];
  return (
    <div style={{ position: "absolute", left: 0, top: 0, width: 1161, height: 1474, background: "#FFFFFF", fontFamily: FONT, overflow: "hidden" }}>
      {panels}
      {COLUMNS.map((t, c) => (
        <div key={t} style={{ ...stripBase, left: COL_X[c], top: 8, width: PW + 1, height: 41 }}>{t}</div>
      ))}
      {ROW_Y.map((y, r) => (
        <React.Fragment key={r}>
          <div style={{ ...stripBase, left: 1082, top: y, width: 39, height: PH + 1, writingMode: "vertical-rl" as any }}>{REPLICATES[r]}</div>
          <div style={{ ...stripBase, left: 1121, top: y, width: 39, height: PH + 1, writingMode: "vertical-rl" as any }}>{SPECIES[r]}</div>
        </React.Fragment>
      ))}
      <div style={{ position: "absolute", left: 0, top: 1368, width: 1161, fontSize: TITLE, color: "#000", whiteSpace: "nowrap" }}>
        <span style={{ position: "absolute", left: 580.5, transform: "translateX(-50%)" }}>Shear displacement [mm]</span>
      </div>
      <div style={{ position: "absolute", left: 11, top: 48, width: 28, height: 1288, display: "flex", alignItems: "center", justifyContent: "center" }}>
        <span style={{ writingMode: "vertical-rl" as any, transform: "rotate(180deg)", fontSize: TITLE, color: "#000", whiteSpace: "nowrap" }}>Shear stress [kPa]</span>
      </div>
      <div style={{ position: "absolute", left: 288, top: 1442, fontSize: TITLE - 1, color: "#000", whiteSpace: "nowrap" }}>Type</div>
      {legendItems.map((it) => (
        <React.Fragment key={it.label}>
          <div style={{ position: "absolute", left: it.keyX, top: 1451 }}>
            <LegendKey color={it.color} dash={it.dash} />
          </div>
          <div style={{ position: "absolute", left: it.textX, top: 1444, fontSize: SMALL, color: "#1A1A1A", whiteSpace: "nowrap" }}>{it.label}</div>
        </React.Fragment>
      ))}
    </div>
  );
}
